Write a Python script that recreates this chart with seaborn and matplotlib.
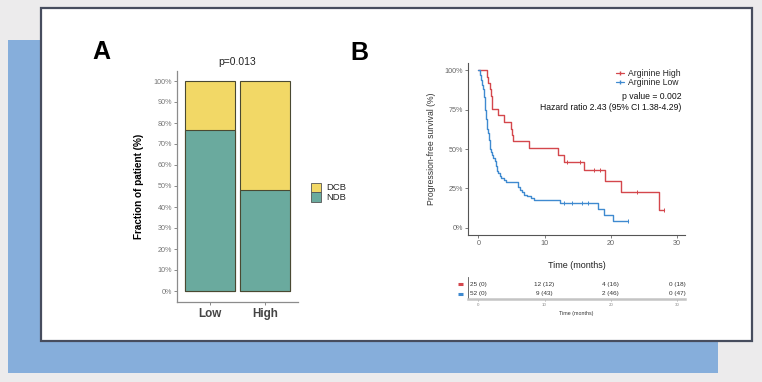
import numpy as np
import pandas as pd
import matplotlib
matplotlib.use("Agg")
import matplotlib.pyplot as plt
import matplotlib.patches as mpatches
import matplotlib.transforms as mtransforms
from matplotlib.lines import Line2D
import seaborn as sns

sns.set_theme(style="white")
plt.rcParams["font.family"] = ["Liberation Sans", "DejaVu Sans"]

# ---- panel A data ----
groups = ["Low", "High"]
ndb_frac = [0.769, 0.48]
total = [1.0, 1.0]

# ---- panel B data (Kaplan-Meier steps) ----
high_t = [0, 1.3, 1.5, 1.7, 1.85, 2.0, 2.1, 2.9, 3.8, 4.9, 5.1, 5.3, 7.7,
          12.0, 13.0, 16.0, 19.05, 21.6, 27.2, 28.0]
high_s = [1.0, 0.96, 0.92, 0.88, 0.84, 0.80, 0.755, 0.715, 0.673, 0.63, 0.59, 0.548, 0.506,
          0.465, 0.42, 0.367, 0.297, 0.224, 0.112, 0.112]
high_cens = [13.4, 15.3, 17.4, 18.3, 24.0, 28.0]

low_t = [0, 0.2, 0.4, 0.55, 0.7, 0.82, 0.95, 1.05, 1.17, 1.3, 1.45, 1.6, 1.75, 1.9,
         2.05, 2.2, 2.5, 2.7, 2.85, 3.0, 3.2, 3.45, 3.8, 4.2, 6.0, 6.25, 6.6, 6.95,
         7.4, 7.9, 8.4, 12.35, 18.0, 18.9, 20.3, 22.6]
low_s = [1.0, 0.97, 0.94, 0.91, 0.88, 0.83, 0.79, 0.75, 0.69, 0.63, 0.60, 0.56, 0.50, 0.48,
         0.46, 0.44, 0.425, 0.39, 0.36, 0.345, 0.33, 0.315, 0.30, 0.29, 0.26, 0.24, 0.225, 0.21,
         0.20, 0.187, 0.173, 0.157, 0.118, 0.08, 0.042, 0.042]
low_cens = [13.0, 14.2, 15.7, 16.6, 22.6]

risk_times = [0, 10, 20, 30]
risk_high = ["25 (0)", "12 (12)", "4 (16)", "0 (18)"]
risk_low = ["52 (0)", "9 (43)", "2 (46)", "0 (47)"]

YELLOW = "#F2D866"
TEAL = "#6AAA9E"
EDGE = "#4a4932"
RED = "#D4474C"
BLUE = "#3F8AD0"

W, H = 762, 382


def fx(px):
    return px / W


def fy(py):
    return 1 - py / H


fig = plt.figure(figsize=(7.62, 3.82), dpi=100)
fig.patch.set_facecolor("#ECEBEC")

# background cards (behind the axes)
fig.add_artist(mpatches.Rectangle((fx(8), fy(372.7)), fx(710), 332.7 / H,
                                  transform=fig.transFigure, facecolor="#86AEDB",
                                  edgecolor="none", zorder=-3))
fig.add_artist(mpatches.Rectangle((fx(40.7), fy(340.7)), fx(711.3), 333.2 / H,
                                  transform=fig.transFigure, facecolor="white",
                                  edgecolor="#474D5E", linewidth=1.6, zorder=-2))

fig.text(fx(101), fy(52), "A", fontsize=18, fontweight="bold", ha="center", va="center",
         color="black")
fig.text(fx(359), fy(53.5), "B", fontsize=18, fontweight="bold", ha="center", va="center",
         color="black")

# ---------------- Panel A ----------------
axA = fig.add_axes([fx(177), fy(301.5), fx(121), 231 / H])
axA.patch.set_alpha(0)
dfA = pd.DataFrame({"group": groups, "ndb": ndb_frac, "total": total})
sns.barplot(data=dfA, x="group", y="total", color=YELLOW, width=0.9,
            edgecolor=EDGE, linewidth=0.8, saturation=1, ax=axA)
sns.barplot(data=dfA, x="group", y="ndb", color=TEAL, width=0.9,
            edgecolor=EDGE, linewidth=0.8, saturation=1, ax=axA)
axA.set_xlim(-0.6, 1.6)
axA.set_ylim(-0.05, 1.05)
axA.set_yticks(np.arange(0, 1.01, 0.1))
axA.set_yticklabels([f"{int(round(v * 100))}%" for v in np.arange(0, 1.01, 0.1)])
axA.tick_params(axis="y", labelsize=5.2, colors="#777777", length=2, width=0.6, pad=1.5,
                left=True)
axA.tick_params(axis="x", labelsize=8.4, length=2, width=0.6, pad=3, labelcolor="#444444",
                color="#777777", bottom=True)
for lab in axA.get_xticklabels():
    lab.set_fontweight("bold")
axA.set_xlabel("")
axA.set_ylabel("Fraction of patient (%)", fontsize=7.2, fontweight="bold", labelpad=7,
               color="black")
axA.set_title("p=0.013", fontsize=7.5, pad=4, color="#222222")
for s in ["top", "right"]:
    axA.spines[s].set_visible(False)
for s in ["left", "bottom"]:
    axA.spines[s].set_color("#8c8c8c")
    axA.spines[s].set_linewidth(0.9)

legA = [mpatches.Patch(facecolor=YELLOW, edgecolor="#555555", linewidth=0.6, label="DCB"),
        mpatches.Patch(facecolor=TEAL, edgecolor="#555555", linewidth=0.6, label="NDB")]
fig.legend(handles=legA, loc="upper left", bbox_to_anchor=(fx(310.7), fy(182.7)),
           frameon=False, fontsize=6.8, handlelength=1.1, handleheight=1.1,
           handletextpad=0.5, labelspacing=0.0, borderpad=0, borderaxespad=0)

# ---------------- Panel B ----------------
axB = fig.add_axes([fx(468), fy(235), fx(217), 172 / H])
axB.patch.set_alpha(0)


def step_value(ts, ss, t):
    idx = np.searchsorted(ts, t, side="right") - 1
    return np.array(ss)[idx]


sns.lineplot(x=high_t, y=high_s, drawstyle="steps-post", color=RED, linewidth=1.0,
             estimator=None, sort=False, ax=axB)
sns.lineplot(x=low_t, y=low_s, drawstyle="steps-post", color=BLUE, linewidth=1.0,
             estimator=None, sort=False, ax=axB)
sns.scatterplot(x=high_cens, y=step_value(high_t, high_s, high_cens), marker="|",
                color=RED, s=8, linewidth=0.7, ax=axB)
sns.scatterplot(x=low_cens, y=step_value(low_t, low_s, low_cens), marker="|",
                color=BLUE, s=8, linewidth=0.7, ax=axB)

axB.set_xlim(-1.56, 31.2)
axB.set_ylim(-0.047, 1.047)
axB.set_xticks(risk_times)
axB.set_yticks([0, 0.25, 0.5, 0.75, 1.0])
axB.set_yticklabels(["0%", "25%", "50%", "75%", "100%"])
axB.tick_params(axis="both", labelsize=5.2, colors="#666666", length=2, width=0.6, pad=1.5,
                left=True, bottom=True)
axB.set_xlabel("Time (months)", fontsize=6.5, labelpad=10, color="#222222")
axB.set_ylabel("Progression-free survival (%)", fontsize=6.2, labelpad=6, color="#333333")
for s in ["top", "right"]:
    axB.spines[s].set_visible(False)
for s in ["left", "bottom"]:
    axB.spines[s].set_color("#555555")
    axB.spines[s].set_linewidth(0.8)

legB = [Line2D([0], [0], color=RED, linewidth=0.9, marker="|", markersize=2.5,
               label="Arginine High"),
        Line2D([0], [0], color=BLUE, linewidth=0.9, marker="|", markersize=2.5,
               label="Arginine Low")]
axB.legend(handles=legB, loc="upper right", bbox_to_anchor=(0.982, 0.965), frameon=False,
           fontsize=6.2, handlelength=1.0, handletextpad=0.5, labelspacing=0.05,
           borderpad=0, borderaxespad=0)
axB.text(0.985, 0.808, "p value = 0.002", transform=axB.transAxes, ha="right",
         va="center", fontsize=6.2, color="#111111")
axB.text(0.985, 0.740, "Hazard ratio 2.43 (95% CI 1.38-4.29)", transform=axB.transAxes,
         ha="right", va="center", fontsize=6.2, color="#111111")

# ---------------- risk table ----------------
axT = fig.add_axes([fx(468), fy(298.7), fx(217), 21.7 / H])
axT.patch.set_alpha(0)
axT.set_xlim(-1.56, 31.2)
axT.set_ylim(0.468, 2.777)
for t, lab in zip(risk_times, risk_high):
    axT.text(t, 2, lab, ha="center", va="center", fontsize=4.6, color="#333333")
for t, lab in zip(risk_times, risk_low):
    axT.text(t, 1, lab, ha="center", va="center", fontsize=4.6, color="#333333")
blend = mtransforms.blended_transform_factory(axT.transAxes, axT.transData)
axT.plot([-0.046, -0.023], [2, 2], color=RED, linewidth=2.2, transform=blend,
         clip_on=False, solid_capstyle="butt")
axT.plot([-0.046, -0.023], [1, 1], color=BLUE, linewidth=2.2, transform=blend,
         clip_on=False, solid_capstyle="butt")
axT.set_yticks([])
axT.set_xticks(risk_times)
axT.tick_params(axis="x", labelsize=3.2, colors="#888888", length=1.5, width=0.5, pad=1.5,
                bottom=True)
axT.set_xlabel("Time (months)", fontsize=3.8, labelpad=3, color="#333333")
for s in ["top", "right"]:
    axT.spines[s].set_visible(False)
axT.spines["left"].set_color("#555555")
axT.spines["left"].set_linewidth(0.6)
axT.spines["bottom"].set_color("#c4c4c4")
axT.spines["bottom"].set_linewidth(1.8)

fig.savefig("out.png", dpi=100, facecolor=fig.get_facecolor())
